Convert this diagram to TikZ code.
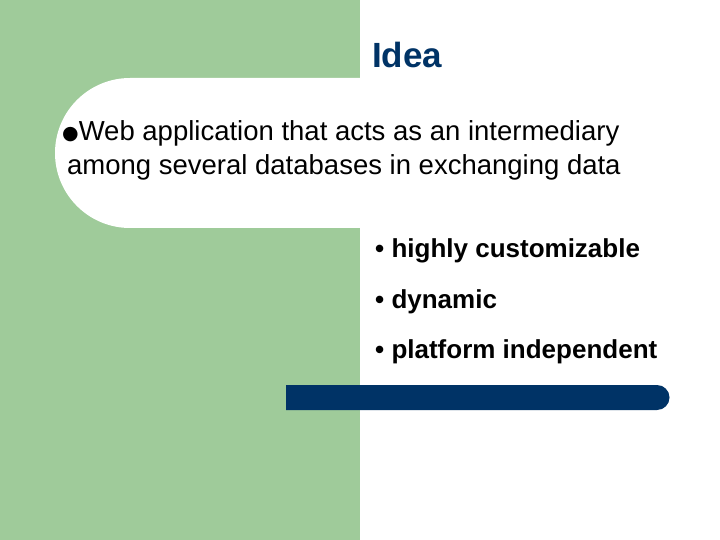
\documentclass[tikz,border=0pt]{standalone}
\usepackage{fontspec}
\setmainfont{Liberation Sans}
\newfontfamily\dejavu{DejaVu Sans}
\definecolor{sgreen}{HTML}{9FCB9A}
\definecolor{sblue}{HTML}{003366}
\begin{document}
\begin{tikzpicture}[x=1pt,y=-1pt,
  body/.style={anchor=base west,inner sep=0pt,font=\fontsize{27.5}{31}\selectfont},
  bul/.style={anchor=base west,inner sep=0pt,font=\bfseries\fontsize{26}{30}\selectfont}]
\useasboundingbox (0,0) rectangle (720,540);
\fill[white] (0,0) rectangle (720,540);
\fill[sgreen] (0,0) rectangle (360,540);
\fill[white] (360,78) -- (130,78) arc[start angle=-90,end angle=-270,radius=75] -- (360,228) -- cycle;
\fill[sblue] (286,385) -- (657,385) arc[start angle=-90,end angle=90,radius=12.5] -- (286,410) -- cycle;
\node[anchor=base west,inner sep=0pt,text=sblue,font=\bfseries\fontsize{35}{40}\selectfont] (title) at (372,68) {Idea};
\node[body] (l1) at (62,141) {\raisebox{1pt}{\dejavu\fontsize{19}{20}\selectfont ●}Web application that acts as an intermediary};
\node[body] (l2) at (67,175) {among several databases in exchanging data};
\node[bul] (b1) at (375,258) {• highly customizable};
\node[bul] (b2) at (375,308) {• dynamic};
\node[bul] (b3) at (375,358) {• platform independent};
\end{tikzpicture}
\end{document}
